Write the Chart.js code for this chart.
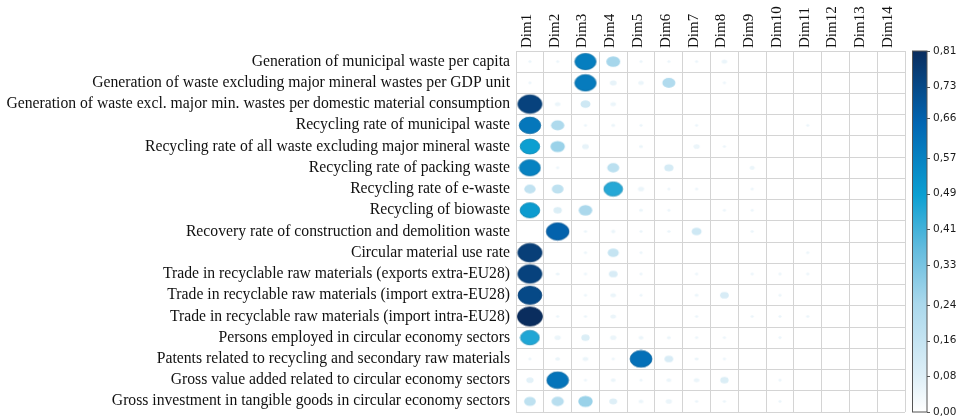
<!DOCTYPE html>
<html>
<head>
<meta charset="utf-8">
<script src="https://cdn.jsdelivr.net/npm/chart.js@4/dist/chart.umd.min.js"></script>
<style>
  html, body { margin: 0; padding: 0; background: #ffffff; }
  #wrap { width: 961px; height: 416px; position: relative; }
</style>
</head>
<body>
<div id="wrap"><canvas id="chart" width="961" height="416"></canvas></div>
<script>
// Indicators (rows, top to bottom)
const indicators = [
  'Generation of municipal waste per capita',
  'Generation of waste excluding major mineral wastes per GDP unit',
  'Generation of waste excl. major min. wastes per domestic material consumption',
  'Recycling rate of municipal waste',
  'Recycling rate of all waste excluding major mineral waste',
  'Recycling rate of packing waste',
  'Recycling rate of e-waste',
  'Recycling of biowaste',
  'Recovery rate of construction and demolition waste',
  'Circular material use rate',
  'Trade in recyclable raw materials (exports extra-EU28)',
  'Trade in recyclable raw materials (import extra-EU28)',
  'Trade in recyclable raw materials (import intra-EU28)',
  'Persons employed in circular economy sectors',
  'Patents related to recycling and secondary raw materials',
  'Gross value added related to circular economy sectors',
  'Gross investment in tangible goods in circular economy sectors'
];

// Dimensions (columns)
const dims = ['Dim1','Dim2','Dim3','Dim4','Dim5','Dim6','Dim7','Dim8','Dim9','Dim10','Dim11','Dim12','Dim13','Dim14'];

// Quality of representation (cos2) of each indicator on each dimension
const dim1  = [0.01, 0.01, 0.75, 0.60, 0.49, 0.57, 0.17, 0.50, 0.00, 0.76, 0.75, 0.73, 0.81, 0.46, 0.005, 0.07, 0.18];
const dim2  = [0.005, 0.00, 0.04, 0.23, 0.27, 0.005, 0.18, 0.09, 0.66, 0.00, 0.02, 0.00, 0.005, 0.05, 0.03, 0.61, 0.20];
const dim3  = [0.58, 0.59, 0.13, 0.01, 0.06, 0.00, 0.00, 0.24, 0.005, 0.005, 0.005, 0.005, 0.005, 0.09, 0.04, 0.005, 0.27];
const dim4  = [0.25, 0.06, 0.04, 0.02, 0.00, 0.19, 0.45, 0.00, 0.025, 0.16, 0.10, 0.04, 0.04, 0.05, 0.01, 0.03, 0.08];
const dim5  = [0.01, 0.04, 0.00, 0.005, 0.02, 0.00, 0.05, 0.02, 0.01, 0.005, 0.005, 0.005, 0.00, 0.03, 0.62, 0.005, 0.03];
const dim6  = [0.005, 0.22, 0.00, 0.00, 0.00, 0.11, 0.01, 0.01, 0.015, 0.00, 0.00, 0.00, 0.00, 0.02, 0.10, 0.03, 0.05];
const dim7  = [0.005, 0.00, 0.00, 0.01, 0.05, 0.00, 0.005, 0.00, 0.13, 0.00, 0.005, 0.02, 0.005, 0.005, 0.02, 0.04, 0.01];
const dim8  = [0.04, 0.005, 0.00, 0.00, 0.01, 0.00, 0.00, 0.01, 0.00, 0.00, 0.00, 0.10, 0.00, 0.005, 0.005, 0.09, 0.005];
const dim9  = [0.00, 0.00, 0.00, 0.00, 0.00, 0.035, 0.005, 0.005, 0.005, 0.00, 0.005, 0.00, 0.005, 0.00, 0.00, 0.00, 0.00];
const dim10 = [0.00, 0.00, 0.00, 0.00, 0.00, 0.00, 0.00, 0.00, 0.00, 0.00, 0.005, 0.005, 0.005, 0.01, 0.00, 0.005, 0.008];
const dim11 = [0.00, 0.00, 0.00, 0.005, 0.00, 0.00, 0.00, 0.00, 0.00, 0.005, 0.005, 0.00, 0.003, 0.00, 0.00, 0.00, 0.00];
const dim12 = [0.00, 0.00, 0.00, 0.00, 0.00, 0.00, 0.00, 0.00, 0.00, 0.00, 0.00, 0.00, 0.00, 0.00, 0.00, 0.00, 0.00];
const dim13 = [0.00, 0.00, 0.00, 0.00, 0.00, 0.00, 0.00, 0.00, 0.00, 0.00, 0.00, 0.00, 0.00, 0.00, 0.00, 0.00, 0.00];
const dim14 = [0.00, 0.00, 0.00, 0.00, 0.00, 0.00, 0.00, 0.00, 0.00, 0.00, 0.00, 0.00, 0.00, 0.00, 0.00, 0.00, 0.00];

// Colour legend ticks
const legendTicks = [0.00, 0.08, 0.16, 0.24, 0.33, 0.41, 0.49, 0.57, 0.66, 0.73, 0.81];
const valueMax = 0.81;

const columns = [dim1, dim2, dim3, dim4, dim5, dim6, dim7, dim8, dim9, dim10, dim11, dim12, dim13, dim14];

// White -> light blue -> cyan -> blue -> navy
const colorStops = [
  [0.00, [255, 255, 255]],
  [0.10, [222, 239, 247]],
  [0.30, [170, 216, 236]],
  [0.45, [100, 188, 222]],
  [0.60, [12, 160, 210]],
  [0.80, [2, 102, 178]],
  [1.00, [10, 45, 94]]
];

function rampColor(t) {
  t = Math.max(0, Math.min(1, t));
  for (let i = 1; i < colorStops.length; i++) {
    const [t1, c1] = colorStops[i];
    const [t0, c0] = colorStops[i - 1];
    if (t <= t1) {
      const f = (t - t0) / (t1 - t0);
      return c0.map((c, k) => Math.round(c + (c1[k] - c) * f));
    }
  }
  return colorStops[colorStops.length - 1][1];
}

function rgb(c) { return 'rgb(' + c[0] + ',' + c[1] + ',' + c[2] + ')'; }

const points = [];
columns.forEach((col, j) => {
  col.forEach((v, i) => {
    if (v > 0) points.push({ x: dims[j], y: indicators[i], v: v });
  });
});

// Ellipse marker scaled to the cell, area proportional to the value
const markerCache = {};
function marker(ctx) {
  const v = ctx.raw ? ctx.raw.v : 0;
  const chart = ctx.chart;
  const xs = chart.scales.x, ys = chart.scales.y;
  const cw = xs ? xs.width / dims.length : 27.7;
  const ch = ys ? ys.height / indicators.length : 21.4;
  const s = Math.sqrt(v / valueMax);
  const rx = Math.max(1.6, 0.45 * cw * s);
  const ry = Math.max(1.2, 0.45 * ch * s);
  const key = v + '_' + cw.toFixed(2) + '_' + ch.toFixed(2);
  if (markerCache[key]) return markerCache[key];
  const w = Math.ceil(rx * 2) + 2, h = Math.ceil(ry * 2) + 2;
  const c = document.createElement('canvas');
  c.width = w; c.height = h;
  const g = c.getContext('2d');
  const col = rampColor(Math.max(v / valueMax, 0.06));
  g.beginPath();
  g.ellipse(w / 2, h / 2, rx, ry, 0, 0, Math.PI * 2);
  g.fillStyle = rgb(col);
  g.fill();
  if (v > 0.3) {
    g.lineWidth = 0.8;
    g.strokeStyle = rgb(col.map(x => Math.round(x * 0.85)));
    g.stroke();
  }
  markerCache[key] = c;
  return c;
}

// Colour bar drawn beside the grid, using the legend axis for positions
const colorBar = {
  id: 'colorBar',
  afterDraw(chart) {
    const sc = chart.scales.cb;
    const ctx = chart.ctx;
    const x0 = sc.left + 7.5, bw = 14.5;
    const top = sc.getPixelForValue(valueMax), bottom = sc.getPixelForValue(0);
    const grad = ctx.createLinearGradient(0, bottom, 0, top);
    colorStops.forEach(([t, c]) => grad.addColorStop(t, rgb(c)));
    ctx.save();
    ctx.fillStyle = grad;
    ctx.fillRect(x0, top, bw, bottom - top);
    ctx.strokeStyle = '#555555';
    ctx.lineWidth = 1;
    ctx.strokeRect(x0, top, bw, bottom - top);
    ctx.beginPath();
    legendTicks.forEach(v => {
      const y = Math.round(sc.getPixelForValue(v)) + 0.5;
      ctx.moveTo(x0 + bw, y);
      ctx.lineTo(x0 + bw + 3, y);
    });
    ctx.stroke();
    ctx.restore();
  }
};

new Chart(document.getElementById('chart'), {
  type: 'scatter',
  data: {
    datasets: [{
      data: points,
      pointStyle: marker,
      pointBorderWidth: 0,
      showLine: false
    }]
  },
  options: {
    responsive: false,
    animation: false,
    layout: { padding: { left: 0, right: 0, top: 0, bottom: 2 } },
    plugins: { legend: { display: false }, tooltip: { enabled: false } },
    scales: {
      x: {
        type: 'category',
        labels: dims,
        position: 'top',
        offset: true,
        grid: { offset: true, color: '#d4d4d4', lineWidth: 1, drawTicks: false },
        border: { color: '#d4d4d4' },
        ticks: {
          autoSkip: false, minRotation: 90, maxRotation: 90, padding: 3, labelOffset: 15,
          color: '#111111',
          font: { family: 'Liberation Serif', size: 15 }
        },
        afterFit(s) { s.height = 51; s.paddingLeft = 0; s.paddingRight = 0; }
      },
      y: {
        type: 'category',
        labels: indicators,
        position: 'left',
        offset: true,
        grid: { offset: true, color: '#d4d4d4', lineWidth: 1, drawTicks: false },
        border: { color: '#d4d4d4' },
        ticks: {
          autoSkip: false, padding: 6,
          color: '#111111',
          font: { family: 'Liberation Serif', size: 15.7 }
        },
        afterFit(s) { s.width = 516; s.paddingTop = 0; s.paddingBottom = 0; }
      },
      cb: {
        type: 'linear',
        position: 'right',
        min: 0, max: valueMax,
        grid: { display: false, drawTicks: false },
        border: { display: false },
        afterBuildTicks(s) { s.ticks = legendTicks.map(v => ({ value: v })); },
        ticks: {
          padding: 28,
          color: '#1a1a1a',
          font: { family: 'DejaVu Sans', size: 10.5 },
          callback: v => v.toFixed(2).replace('.', ',')
        },
        afterFit(s) { s.width = 56; s.paddingTop = 0; s.paddingBottom = 0; }
      }
    }
  },
  plugins: [colorBar]
});
</script>
</body>
</html>
